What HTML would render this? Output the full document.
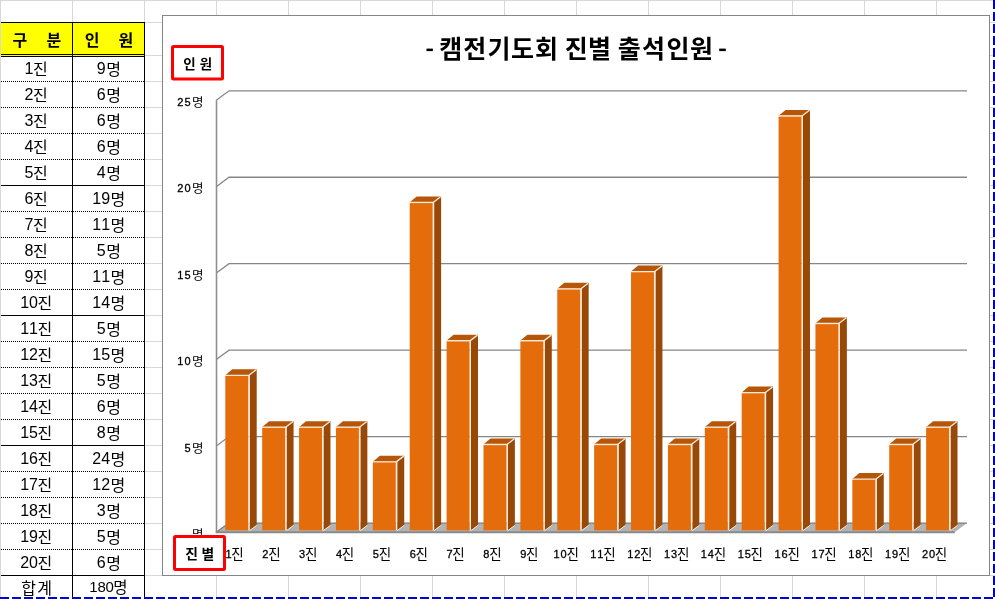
<!DOCTYPE html>
<html><head><meta charset="utf-8"><title>chart</title>
<style>
html,body{margin:0;padding:0;background:#fff;overflow:hidden;}
body{width:995px;height:599px;font-family:"Liberation Sans",sans-serif;}
svg{display:block;position:absolute;left:0;top:0;will-change:transform;}
</style></head><body>
<svg width="995" height="599" viewBox="0 0 995 599" role="img" aria-label="캠전기도회 진별 출석인원">
<title>- 캠전기도회 진별 출석인원 -</title>
<desc>구분 / 인원 표 (1진~20진, 합계 180명) 와 진별 출석인원 3차원 세로 막대 차트. 세로축: 인원 (0명~25명), 가로축: 진별 (1진~20진).</desc>
<rect x="0" y="0" width="995" height="599" fill="#fff"/>
<g shape-rendering="crispEdges" fill="#d8d8d8">
<rect x="0" y="0" width="1" height="599"/>
<rect x="72" y="0" width="1" height="599"/>
<rect x="144" y="0" width="1" height="599"/>
<rect x="216" y="0" width="1" height="599"/>
<rect x="288" y="0" width="1" height="599"/>
<rect x="360" y="0" width="1" height="599"/>
<rect x="432" y="0" width="1" height="599"/>
<rect x="504" y="0" width="1" height="599"/>
<rect x="576" y="0" width="1" height="599"/>
<rect x="648" y="0" width="1" height="599"/>
<rect x="720" y="0" width="1" height="599"/>
<rect x="792" y="0" width="1" height="599"/>
<rect x="864" y="0" width="1" height="599"/>
<rect x="936" y="0" width="1" height="599"/>
<rect x="0" y="0" width="995" height="1"/>
<rect x="0" y="22" width="995" height="1"/>
<rect x="0" y="55" width="995" height="1"/>
<rect x="0" y="81" width="995" height="1"/>
<rect x="0" y="107" width="995" height="1"/>
<rect x="0" y="133" width="995" height="1"/>
<rect x="0" y="159" width="995" height="1"/>
<rect x="0" y="185" width="995" height="1"/>
<rect x="0" y="211" width="995" height="1"/>
<rect x="0" y="237" width="995" height="1"/>
<rect x="0" y="263" width="995" height="1"/>
<rect x="0" y="289" width="995" height="1"/>
<rect x="0" y="315" width="995" height="1"/>
<rect x="0" y="341" width="995" height="1"/>
<rect x="0" y="367" width="995" height="1"/>
<rect x="0" y="393" width="995" height="1"/>
<rect x="0" y="419" width="995" height="1"/>
<rect x="0" y="445" width="995" height="1"/>
<rect x="0" y="471" width="995" height="1"/>
<rect x="0" y="497" width="995" height="1"/>
<rect x="0" y="523" width="995" height="1"/>
<rect x="0" y="549" width="995" height="1"/>
<rect x="0" y="575" width="995" height="1"/>
</g>
<g shape-rendering="crispEdges">
<rect x="1" y="23" width="143" height="58" fill="#fff"/>
<rect x="1" y="57" width="143" height="542" fill="#fff"/>
<rect x="1" y="22" width="144" height="35" fill="#ffff00"/>
<rect x="1" y="22" width="144" height="1" fill="#000"/>
<rect x="1" y="54" width="144" height="1" fill="#000"/>
<rect x="1" y="56" width="144" height="1" fill="#000"/>
<rect x="72" y="22" width="1" height="577" fill="#000"/>
<rect x="144" y="22" width="1" height="577" fill="#000"/>
<rect x="1" y="575" width="144" height="1" fill="#000"/>
<line x1="1" y1="81.5" x2="145" y2="81.5" stroke="#000" stroke-width="1" stroke-dasharray="1 1"/>
<line x1="1" y1="107.5" x2="145" y2="107.5" stroke="#000" stroke-width="1" stroke-dasharray="1 1"/>
<line x1="1" y1="133.5" x2="145" y2="133.5" stroke="#000" stroke-width="1" stroke-dasharray="1 1"/>
<line x1="1" y1="159.5" x2="145" y2="159.5" stroke="#000" stroke-width="1" stroke-dasharray="1 1"/>
<rect x="1" y="185" width="144" height="1" fill="#000"/>
<line x1="1" y1="211.5" x2="145" y2="211.5" stroke="#000" stroke-width="1" stroke-dasharray="1 1"/>
<line x1="1" y1="237.5" x2="145" y2="237.5" stroke="#000" stroke-width="1" stroke-dasharray="1 1"/>
<line x1="1" y1="263.5" x2="145" y2="263.5" stroke="#000" stroke-width="1" stroke-dasharray="1 1"/>
<line x1="1" y1="289.5" x2="145" y2="289.5" stroke="#000" stroke-width="1" stroke-dasharray="1 1"/>
<rect x="1" y="315" width="144" height="1" fill="#000"/>
<line x1="1" y1="341.5" x2="145" y2="341.5" stroke="#000" stroke-width="1" stroke-dasharray="1 1"/>
<line x1="1" y1="367.5" x2="145" y2="367.5" stroke="#000" stroke-width="1" stroke-dasharray="1 1"/>
<line x1="1" y1="393.5" x2="145" y2="393.5" stroke="#000" stroke-width="1" stroke-dasharray="1 1"/>
<line x1="1" y1="419.5" x2="145" y2="419.5" stroke="#000" stroke-width="1" stroke-dasharray="1 1"/>
<rect x="1" y="445" width="144" height="1" fill="#000"/>
<line x1="1" y1="471.5" x2="145" y2="471.5" stroke="#000" stroke-width="1" stroke-dasharray="1 1"/>
<line x1="1" y1="497.5" x2="145" y2="497.5" stroke="#000" stroke-width="1" stroke-dasharray="1 1"/>
<line x1="1" y1="523.5" x2="145" y2="523.5" stroke="#000" stroke-width="1" stroke-dasharray="1 1"/>
<line x1="1" y1="549.5" x2="145" y2="549.5" stroke="#000" stroke-width="1" stroke-dasharray="1 1"/>
</g>
<g font-family="'Liberation Sans', 'Noto Sans CJK KR', sans-serif" font-size="16px" font-weight="bold" fill="#000">
<text x="12.42" y="46.12">구</text>
<text x="46.55" y="45.76">분</text>
<text x="84.69" y="45.87">인</text>
<text x="118.38" y="45.87">원</text>
</g>
<g font-family="'Liberation Sans', 'Noto Sans CJK KR', sans-serif" font-size="16px" fill="#000">
<text x="24.60" y="73.90">1</text>
<text x="33.01" y="74.57">진</text>
<text x="96.75" y="73.90">9</text>
<text x="106.16" y="74.68">명</text>
<text x="24.60" y="99.90">2</text>
<text x="33.01" y="100.57">진</text>
<text x="96.75" y="99.90">6</text>
<text x="106.16" y="100.68">명</text>
<text x="24.60" y="125.90">3</text>
<text x="33.01" y="126.57">진</text>
<text x="96.75" y="125.90">6</text>
<text x="106.16" y="126.68">명</text>
<text x="24.60" y="151.90">4</text>
<text x="33.01" y="152.57">진</text>
<text x="96.75" y="151.90">6</text>
<text x="106.16" y="152.68">명</text>
<text x="24.60" y="177.90">5</text>
<text x="33.01" y="178.57">진</text>
<text x="96.75" y="177.90">4</text>
<text x="106.16" y="178.68">명</text>
<text x="24.60" y="203.90">6</text>
<text x="33.01" y="204.57">진</text>
<text x="92.30" y="203.90">1</text><text x="101.20" y="203.90">9</text>
<text x="110.61" y="204.68">명</text>
<text x="24.60" y="229.90">7</text>
<text x="33.01" y="230.57">진</text>
<text x="92.30" y="229.90">1</text><text x="101.20" y="229.90">1</text>
<text x="110.61" y="230.68">명</text>
<text x="24.60" y="255.90">8</text>
<text x="33.01" y="256.57">진</text>
<text x="96.75" y="255.90">5</text>
<text x="106.16" y="256.68">명</text>
<text x="24.60" y="281.90">9</text>
<text x="33.01" y="282.57">진</text>
<text x="92.30" y="281.90">1</text><text x="101.20" y="281.90">1</text>
<text x="110.61" y="282.68">명</text>
<text x="20.15" y="307.90">1</text><text x="29.05" y="307.90">0</text>
<text x="37.46" y="308.57">진</text>
<text x="92.30" y="307.90">1</text><text x="101.20" y="307.90">4</text>
<text x="110.61" y="308.68">명</text>
<text x="20.15" y="333.90">1</text><text x="29.05" y="333.90">1</text>
<text x="37.46" y="334.57">진</text>
<text x="96.75" y="333.90">5</text>
<text x="106.16" y="334.68">명</text>
<text x="20.15" y="359.90">1</text><text x="29.05" y="359.90">2</text>
<text x="37.46" y="360.57">진</text>
<text x="92.30" y="359.90">1</text><text x="101.20" y="359.90">5</text>
<text x="110.61" y="360.68">명</text>
<text x="20.15" y="385.90">1</text><text x="29.05" y="385.90">3</text>
<text x="37.46" y="386.57">진</text>
<text x="96.75" y="385.90">5</text>
<text x="106.16" y="386.68">명</text>
<text x="20.15" y="411.90">1</text><text x="29.05" y="411.90">4</text>
<text x="37.46" y="412.57">진</text>
<text x="96.75" y="411.90">6</text>
<text x="106.16" y="412.68">명</text>
<text x="20.15" y="437.90">1</text><text x="29.05" y="437.90">5</text>
<text x="37.46" y="438.57">진</text>
<text x="96.75" y="437.90">8</text>
<text x="106.16" y="438.68">명</text>
<text x="20.15" y="463.90">1</text><text x="29.05" y="463.90">6</text>
<text x="37.46" y="464.57">진</text>
<text x="92.30" y="463.90">2</text><text x="101.20" y="463.90">4</text>
<text x="110.61" y="464.68">명</text>
<text x="20.15" y="489.90">1</text><text x="29.05" y="489.90">7</text>
<text x="37.46" y="490.57">진</text>
<text x="92.30" y="489.90">1</text><text x="101.20" y="489.90">2</text>
<text x="110.61" y="490.68">명</text>
<text x="20.15" y="515.90">1</text><text x="29.05" y="515.90">8</text>
<text x="37.46" y="516.57">진</text>
<text x="96.75" y="515.90">3</text>
<text x="106.16" y="516.68">명</text>
<text x="20.15" y="541.90">1</text><text x="29.05" y="541.90">9</text>
<text x="37.46" y="542.57">진</text>
<text x="96.75" y="541.90">5</text>
<text x="106.16" y="542.68">명</text>
<text x="20.15" y="567.90">2</text><text x="29.05" y="567.90">0</text>
<text x="37.46" y="568.57">진</text>
<text x="96.75" y="567.90">6</text>
<text x="106.16" y="568.68">명</text>
<text x="21.34" y="593.59">합</text>
<text x="37.27" y="594.2">계</text>
<text x="89.30" y="591.8" font-size="15px">1</text>
<text x="97.40" y="591.8" font-size="15px">8</text>
<text x="105.50" y="591.8" font-size="15px">0</text>
<text x="113.34" y="592.73" font-size="15.5px">명</text>
</g>
<rect x="162.5" y="15.5" width="827" height="560" fill="#fff" stroke="#868686" stroke-width="1"/>
<text font-family="'Liberation Sans', 'Noto Sans CJK KR', sans-serif" font-size="25px" font-weight="bold" fill="#000" y="58.04" x="439.23 463.31 487.55 511.01 535.01 559.5 564.66 587.90 612.5 617.83 641.93 666.39 690.09">캠전기도회 진별 출석인원</text>
<rect x="426.5" y="48.6" width="6.4" height="2.5" fill="#000"/>
<rect x="719.2" y="48.6" width="6.6" height="2.5" fill="#000"/>
<g fill="none" stroke="#868686" stroke-width="1.3">
<polyline points="216.30,100.20 229.00,90.80 967.00,90.80"/>
<polyline points="216.30,186.65 229.00,177.25 967.00,177.25"/>
<polyline points="216.30,273.10 229.00,263.70 967.00,263.70"/>
<polyline points="216.30,359.55 229.00,350.15 967.00,350.15"/>
<polyline points="216.30,446.00 229.00,436.60 967.00,436.60"/>
<line x1="216.50" y1="100.20" x2="216.50" y2="532.50" stroke="#8e8e8e" stroke-width="1.6"/>
</g>
<polygon points="216.30,532.45 229.00,523.05 967.00,523.05 954.30,532.45" fill="#b2b2b2"/>
<line x1="229.00" y1="523.05" x2="967.00" y2="523.05" stroke="#7f7f7f" stroke-width="1.3"/>
<line x1="216.80" y1="531.85" x2="229.00" y2="523.05" stroke="#777" stroke-width="1.2"/>
<line x1="215.70" y1="532.25" x2="954.70" y2="532.25" stroke="#8a8a8a" stroke-width="2.2"/>
<polygon points="249.70,374.69 256.70,369.29 256.70,524.90 249.70,530.30" fill="#984807"/>
<polygon points="225.30,375.19 232.30,369.29 256.70,369.29 249.70,375.19" fill="#b65608"/>
<path d="M225.30,374.69 H249.70 V530.30 H248.20 V375.99 H225.30 Z" fill="#fbe9d9"/>
<rect x="225.30" y="375.99" width="22.90" height="154.31" fill="#e46c0a"/>
<line x1="249.00" y1="375.19" x2="256.20" y2="369.69" stroke="#fbe9d9" stroke-width="1.3"/>
<line x1="249.40" y1="530.80" x2="256.70" y2="525.40" stroke="#f1e7dd" stroke-width="1"/>
<polygon points="286.58,426.56 293.58,421.16 293.58,524.90 286.58,530.30" fill="#984807"/>
<polygon points="262.19,427.06 269.19,421.16 293.58,421.16 286.58,427.06" fill="#b65608"/>
<path d="M262.19,426.56 H286.58 V530.30 H285.08 V427.86 H262.19 Z" fill="#fbe9d9"/>
<rect x="262.19" y="427.86" width="22.90" height="102.44" fill="#e46c0a"/>
<line x1="285.88" y1="427.06" x2="293.08" y2="421.56" stroke="#fbe9d9" stroke-width="1.3"/>
<line x1="286.28" y1="530.80" x2="293.58" y2="525.40" stroke="#f1e7dd" stroke-width="1"/>
<polygon points="323.47,426.56 330.47,421.16 330.47,524.90 323.47,530.30" fill="#984807"/>
<polygon points="299.07,427.06 306.07,421.16 330.47,421.16 323.47,427.06" fill="#b65608"/>
<path d="M299.07,426.56 H323.47 V530.30 H321.97 V427.86 H299.07 Z" fill="#fbe9d9"/>
<rect x="299.07" y="427.86" width="22.90" height="102.44" fill="#e46c0a"/>
<line x1="322.77" y1="427.06" x2="329.97" y2="421.56" stroke="#fbe9d9" stroke-width="1.3"/>
<line x1="323.17" y1="530.80" x2="330.47" y2="525.40" stroke="#f1e7dd" stroke-width="1"/>
<polygon points="360.36,426.56 367.36,421.16 367.36,524.90 360.36,530.30" fill="#984807"/>
<polygon points="335.96,427.06 342.96,421.16 367.36,421.16 360.36,427.06" fill="#b65608"/>
<path d="M335.96,426.56 H360.36 V530.30 H358.86 V427.86 H335.96 Z" fill="#fbe9d9"/>
<rect x="335.96" y="427.86" width="22.90" height="102.44" fill="#e46c0a"/>
<line x1="359.66" y1="427.06" x2="366.86" y2="421.56" stroke="#fbe9d9" stroke-width="1.3"/>
<line x1="360.06" y1="530.80" x2="367.36" y2="525.40" stroke="#f1e7dd" stroke-width="1"/>
<polygon points="397.24,461.14 404.24,455.74 404.24,524.90 397.24,530.30" fill="#984807"/>
<polygon points="372.84,461.64 379.84,455.74 404.24,455.74 397.24,461.64" fill="#b65608"/>
<path d="M372.84,461.14 H397.24 V530.30 H395.74 V462.44 H372.84 Z" fill="#fbe9d9"/>
<rect x="372.84" y="462.44" width="22.90" height="67.86" fill="#e46c0a"/>
<line x1="396.54" y1="461.64" x2="403.74" y2="456.14" stroke="#fbe9d9" stroke-width="1.3"/>
<line x1="396.94" y1="530.80" x2="404.24" y2="525.40" stroke="#f1e7dd" stroke-width="1"/>
<polygon points="434.12,201.79 441.12,196.39 441.12,524.90 434.12,530.30" fill="#984807"/>
<polygon points="409.73,202.29 416.73,196.39 441.12,196.39 434.12,202.29" fill="#b65608"/>
<path d="M409.73,201.79 H434.12 V530.30 H432.62 V203.09 H409.73 Z" fill="#fbe9d9"/>
<rect x="409.73" y="203.09" width="22.90" height="327.21" fill="#e46c0a"/>
<line x1="433.43" y1="202.29" x2="440.62" y2="196.79" stroke="#fbe9d9" stroke-width="1.3"/>
<line x1="433.82" y1="530.80" x2="441.12" y2="525.40" stroke="#f1e7dd" stroke-width="1"/>
<polygon points="471.01,340.11 478.01,334.71 478.01,524.90 471.01,530.30" fill="#984807"/>
<polygon points="446.61,340.61 453.61,334.71 478.01,334.71 471.01,340.61" fill="#b65608"/>
<path d="M446.61,340.11 H471.01 V530.30 H469.51 V341.41 H446.61 Z" fill="#fbe9d9"/>
<rect x="446.61" y="341.41" width="22.90" height="188.89" fill="#e46c0a"/>
<line x1="470.31" y1="340.61" x2="477.51" y2="335.11" stroke="#fbe9d9" stroke-width="1.3"/>
<line x1="470.71" y1="530.80" x2="478.01" y2="525.40" stroke="#f1e7dd" stroke-width="1"/>
<polygon points="507.89,443.85 514.89,438.45 514.89,524.90 507.89,530.30" fill="#984807"/>
<polygon points="483.50,444.35 490.50,438.45 514.89,438.45 507.89,444.35" fill="#b65608"/>
<path d="M483.50,443.85 H507.89 V530.30 H506.39 V445.15 H483.50 Z" fill="#fbe9d9"/>
<rect x="483.50" y="445.15" width="22.90" height="85.15" fill="#e46c0a"/>
<line x1="507.19" y1="444.35" x2="514.39" y2="438.85" stroke="#fbe9d9" stroke-width="1.3"/>
<line x1="507.59" y1="530.80" x2="514.89" y2="525.40" stroke="#f1e7dd" stroke-width="1"/>
<polygon points="544.78,340.11 551.78,334.71 551.78,524.90 544.78,530.30" fill="#984807"/>
<polygon points="520.38,340.61 527.38,334.71 551.78,334.71 544.78,340.61" fill="#b65608"/>
<path d="M520.38,340.11 H544.78 V530.30 H543.28 V341.41 H520.38 Z" fill="#fbe9d9"/>
<rect x="520.38" y="341.41" width="22.90" height="188.89" fill="#e46c0a"/>
<line x1="544.08" y1="340.61" x2="551.28" y2="335.11" stroke="#fbe9d9" stroke-width="1.3"/>
<line x1="544.48" y1="530.80" x2="551.78" y2="525.40" stroke="#f1e7dd" stroke-width="1"/>
<polygon points="581.66,288.24 588.66,282.84 588.66,524.90 581.66,530.30" fill="#984807"/>
<polygon points="557.26,288.74 564.26,282.84 588.66,282.84 581.66,288.74" fill="#b65608"/>
<path d="M557.26,288.24 H581.66 V530.30 H580.16 V289.54 H557.26 Z" fill="#fbe9d9"/>
<rect x="557.26" y="289.54" width="22.90" height="240.76" fill="#e46c0a"/>
<line x1="580.96" y1="288.74" x2="588.16" y2="283.24" stroke="#fbe9d9" stroke-width="1.3"/>
<line x1="581.37" y1="530.80" x2="588.66" y2="525.40" stroke="#f1e7dd" stroke-width="1"/>
<polygon points="618.55,443.85 625.55,438.45 625.55,524.90 618.55,530.30" fill="#984807"/>
<polygon points="594.15,444.35 601.15,438.45 625.55,438.45 618.55,444.35" fill="#b65608"/>
<path d="M594.15,443.85 H618.55 V530.30 H617.05 V445.15 H594.15 Z" fill="#fbe9d9"/>
<rect x="594.15" y="445.15" width="22.90" height="85.15" fill="#e46c0a"/>
<line x1="617.85" y1="444.35" x2="625.05" y2="438.85" stroke="#fbe9d9" stroke-width="1.3"/>
<line x1="618.25" y1="530.80" x2="625.55" y2="525.40" stroke="#f1e7dd" stroke-width="1"/>
<polygon points="655.43,270.95 662.43,265.55 662.43,524.90 655.43,530.30" fill="#984807"/>
<polygon points="631.03,271.45 638.03,265.55 662.43,265.55 655.43,271.45" fill="#b65608"/>
<path d="M631.03,270.95 H655.43 V530.30 H653.93 V272.25 H631.03 Z" fill="#fbe9d9"/>
<rect x="631.03" y="272.25" width="22.90" height="258.05" fill="#e46c0a"/>
<line x1="654.73" y1="271.45" x2="661.93" y2="265.95" stroke="#fbe9d9" stroke-width="1.3"/>
<line x1="655.13" y1="530.80" x2="662.43" y2="525.40" stroke="#f1e7dd" stroke-width="1"/>
<polygon points="692.32,443.85 699.32,438.45 699.32,524.90 692.32,530.30" fill="#984807"/>
<polygon points="667.92,444.35 674.92,438.45 699.32,438.45 692.32,444.35" fill="#b65608"/>
<path d="M667.92,443.85 H692.32 V530.30 H690.82 V445.15 H667.92 Z" fill="#fbe9d9"/>
<rect x="667.92" y="445.15" width="22.90" height="85.15" fill="#e46c0a"/>
<line x1="691.62" y1="444.35" x2="698.82" y2="438.85" stroke="#fbe9d9" stroke-width="1.3"/>
<line x1="692.02" y1="530.80" x2="699.32" y2="525.40" stroke="#f1e7dd" stroke-width="1"/>
<polygon points="729.21,426.56 736.21,421.16 736.21,524.90 729.21,530.30" fill="#984807"/>
<polygon points="704.81,427.06 711.81,421.16 736.21,421.16 729.21,427.06" fill="#b65608"/>
<path d="M704.81,426.56 H729.21 V530.30 H727.71 V427.86 H704.81 Z" fill="#fbe9d9"/>
<rect x="704.81" y="427.86" width="22.90" height="102.44" fill="#e46c0a"/>
<line x1="728.50" y1="427.06" x2="735.71" y2="421.56" stroke="#fbe9d9" stroke-width="1.3"/>
<line x1="728.91" y1="530.80" x2="736.21" y2="525.40" stroke="#f1e7dd" stroke-width="1"/>
<polygon points="766.09,391.98 773.09,386.58 773.09,524.90 766.09,530.30" fill="#984807"/>
<polygon points="741.69,392.48 748.69,386.58 773.09,386.58 766.09,392.48" fill="#b65608"/>
<path d="M741.69,391.98 H766.09 V530.30 H764.59 V393.28 H741.69 Z" fill="#fbe9d9"/>
<rect x="741.69" y="393.28" width="22.90" height="137.02" fill="#e46c0a"/>
<line x1="765.39" y1="392.48" x2="772.59" y2="386.98" stroke="#fbe9d9" stroke-width="1.3"/>
<line x1="765.79" y1="530.80" x2="773.09" y2="525.40" stroke="#f1e7dd" stroke-width="1"/>
<polygon points="802.98,115.34 809.98,109.94 809.98,524.90 802.98,530.30" fill="#984807"/>
<polygon points="778.58,115.84 785.58,109.94 809.98,109.94 802.98,115.84" fill="#b65608"/>
<path d="M778.58,115.34 H802.98 V530.30 H801.48 V116.64 H778.58 Z" fill="#fbe9d9"/>
<rect x="778.58" y="116.64" width="22.90" height="413.66" fill="#e46c0a"/>
<line x1="802.27" y1="115.84" x2="809.48" y2="110.34" stroke="#fbe9d9" stroke-width="1.3"/>
<line x1="802.68" y1="530.80" x2="809.98" y2="525.40" stroke="#f1e7dd" stroke-width="1"/>
<polygon points="839.86,322.82 846.86,317.42 846.86,524.90 839.86,530.30" fill="#984807"/>
<polygon points="815.46,323.32 822.46,317.42 846.86,317.42 839.86,323.32" fill="#b65608"/>
<path d="M815.46,322.82 H839.86 V530.30 H838.36 V324.12 H815.46 Z" fill="#fbe9d9"/>
<rect x="815.46" y="324.12" width="22.90" height="206.18" fill="#e46c0a"/>
<line x1="839.16" y1="323.32" x2="846.36" y2="317.82" stroke="#fbe9d9" stroke-width="1.3"/>
<line x1="839.56" y1="530.80" x2="846.86" y2="525.40" stroke="#f1e7dd" stroke-width="1"/>
<polygon points="876.75,478.43 883.75,473.03 883.75,524.90 876.75,530.30" fill="#984807"/>
<polygon points="852.35,478.93 859.35,473.03 883.75,473.03 876.75,478.93" fill="#b65608"/>
<path d="M852.35,478.43 H876.75 V530.30 H875.25 V479.73 H852.35 Z" fill="#fbe9d9"/>
<rect x="852.35" y="479.73" width="22.90" height="50.57" fill="#e46c0a"/>
<line x1="876.04" y1="478.93" x2="883.25" y2="473.43" stroke="#fbe9d9" stroke-width="1.3"/>
<line x1="876.45" y1="530.80" x2="883.75" y2="525.40" stroke="#f1e7dd" stroke-width="1"/>
<polygon points="913.63,443.85 920.63,438.45 920.63,524.90 913.63,530.30" fill="#984807"/>
<polygon points="889.23,444.35 896.23,438.45 920.63,438.45 913.63,444.35" fill="#b65608"/>
<path d="M889.23,443.85 H913.63 V530.30 H912.13 V445.15 H889.23 Z" fill="#fbe9d9"/>
<rect x="889.23" y="445.15" width="22.90" height="85.15" fill="#e46c0a"/>
<line x1="912.93" y1="444.35" x2="920.13" y2="438.85" stroke="#fbe9d9" stroke-width="1.3"/>
<line x1="913.33" y1="530.80" x2="920.63" y2="525.40" stroke="#f1e7dd" stroke-width="1"/>
<polygon points="950.51,426.56 957.51,421.16 957.51,524.90 950.51,530.30" fill="#984807"/>
<polygon points="926.12,427.06 933.12,421.16 957.51,421.16 950.51,427.06" fill="#b65608"/>
<path d="M926.12,426.56 H950.51 V530.30 H949.01 V427.86 H926.12 Z" fill="#fbe9d9"/>
<rect x="926.12" y="427.86" width="22.90" height="102.44" fill="#e46c0a"/>
<line x1="949.81" y1="427.06" x2="957.01" y2="421.56" stroke="#fbe9d9" stroke-width="1.3"/>
<line x1="950.22" y1="530.80" x2="957.51" y2="525.40" stroke="#f1e7dd" stroke-width="1"/>
<g font-family="'Liberation Sans', 'Noto Sans CJK KR', sans-serif" font-size="11px" fill="#000" stroke="#000" stroke-width="0.3" text-anchor="middle">
<text x="187.50" y="105.80">5</text>
<text x="180.20" y="105.80">2</text>
<text x="192.05" y="106.99" font-size="12.5px" text-anchor="start" stroke="none">명</text>
<text x="187.50" y="192.25">0</text>
<text x="180.20" y="192.25">2</text>
<text x="192.05" y="193.44" font-size="12.5px" text-anchor="start" stroke="none">명</text>
<text x="187.50" y="278.70">5</text>
<text x="180.20" y="278.70">1</text>
<text x="192.05" y="279.89" font-size="12.5px" text-anchor="start" stroke="none">명</text>
<text x="187.50" y="365.15">0</text>
<text x="180.20" y="365.15">1</text>
<text x="192.05" y="366.34" font-size="12.5px" text-anchor="start" stroke="none">명</text>
<text x="187.50" y="451.60">5</text>
<text x="192.05" y="452.79" font-size="12.5px" text-anchor="start" stroke="none">명</text>
<text x="192.05" y="539.24" font-size="12.5px" text-anchor="start" stroke="none">명</text>
<text x="228.50" y="557.85">1</text>
<text x="231.33" y="558.92" font-size="13.5px" text-anchor="start" stroke="none">진</text>
<text x="265.34" y="557.85">2</text>
<text x="268.17" y="558.92" font-size="13.5px" text-anchor="start" stroke="none">진</text>
<text x="302.18" y="557.85">3</text>
<text x="305.01" y="558.92" font-size="13.5px" text-anchor="start" stroke="none">진</text>
<text x="339.02" y="557.85">4</text>
<text x="341.85" y="558.92" font-size="13.5px" text-anchor="start" stroke="none">진</text>
<text x="375.86" y="557.85">5</text>
<text x="378.69" y="558.92" font-size="13.5px" text-anchor="start" stroke="none">진</text>
<text x="412.70" y="557.85">6</text>
<text x="415.53" y="558.92" font-size="13.5px" text-anchor="start" stroke="none">진</text>
<text x="449.54" y="557.85">7</text>
<text x="452.37" y="558.92" font-size="13.5px" text-anchor="start" stroke="none">진</text>
<text x="486.38" y="557.85">8</text>
<text x="489.21" y="558.92" font-size="13.5px" text-anchor="start" stroke="none">진</text>
<text x="523.22" y="557.85">9</text>
<text x="526.05" y="558.92" font-size="13.5px" text-anchor="start" stroke="none">진</text>
<text x="556.56" y="557.85">1</text>
<text x="563.56" y="557.85">0</text>
<text x="566.39" y="558.92" font-size="13.5px" text-anchor="start" stroke="none">진</text>
<text x="593.40" y="557.85">1</text>
<text x="600.40" y="557.85">1</text>
<text x="603.23" y="558.92" font-size="13.5px" text-anchor="start" stroke="none">진</text>
<text x="630.24" y="557.85">1</text>
<text x="637.24" y="557.85">2</text>
<text x="640.07" y="558.92" font-size="13.5px" text-anchor="start" stroke="none">진</text>
<text x="667.08" y="557.85">1</text>
<text x="674.08" y="557.85">3</text>
<text x="676.91" y="558.92" font-size="13.5px" text-anchor="start" stroke="none">진</text>
<text x="703.92" y="557.85">1</text>
<text x="710.92" y="557.85">4</text>
<text x="713.75" y="558.92" font-size="13.5px" text-anchor="start" stroke="none">진</text>
<text x="740.76" y="557.85">1</text>
<text x="747.76" y="557.85">5</text>
<text x="750.59" y="558.92" font-size="13.5px" text-anchor="start" stroke="none">진</text>
<text x="777.60" y="557.85">1</text>
<text x="784.60" y="557.85">6</text>
<text x="787.43" y="558.92" font-size="13.5px" text-anchor="start" stroke="none">진</text>
<text x="814.44" y="557.85">1</text>
<text x="821.44" y="557.85">7</text>
<text x="824.27" y="558.92" font-size="13.5px" text-anchor="start" stroke="none">진</text>
<text x="851.28" y="557.85">1</text>
<text x="858.28" y="557.85">8</text>
<text x="861.11" y="558.92" font-size="13.5px" text-anchor="start" stroke="none">진</text>
<text x="888.12" y="557.85">1</text>
<text x="895.12" y="557.85">9</text>
<text x="897.95" y="558.92" font-size="13.5px" text-anchor="start" stroke="none">진</text>
<text x="924.96" y="557.85">2</text>
<text x="931.96" y="557.85">0</text>
<text x="934.79" y="558.92" font-size="13.5px" text-anchor="start" stroke="none">진</text>
</g>
<rect x="172.5" y="46.5" width="50" height="32.6" rx="1" fill="#fff" stroke="#ff0000" stroke-width="3"/>
<text x="183.19" y="69.20" font-family="'Liberation Sans', 'Noto Sans CJK KR', sans-serif" font-size="13.5px" font-weight="bold" fill="#000">인</text>
<text x="199.70" y="69.20" font-family="'Liberation Sans', 'Noto Sans CJK KR', sans-serif" font-size="13.5px" font-weight="bold" fill="#000">원</text>
<rect x="174.5" y="536.6" width="50" height="33" rx="1" fill="#fff" stroke="#ff0000" stroke-width="3"/>
<text x="185.30" y="559.04" font-family="'Liberation Sans', 'Noto Sans CJK KR', sans-serif" font-size="13.8px" font-weight="bold" fill="#000">진</text>
<text x="201.41" y="558.96" font-family="'Liberation Sans', 'Noto Sans CJK KR', sans-serif" font-size="13.8px" font-weight="bold" fill="#000">별</text>
<g shape-rendering="crispEdges" stroke="#0000de" stroke-width="2" stroke-dasharray="9 3">
<line x1="0" y1="598" x2="995" y2="598"/>
<line x1="994" y1="0" x2="994" y2="599"/>
</g>
</svg>
</body></html>
